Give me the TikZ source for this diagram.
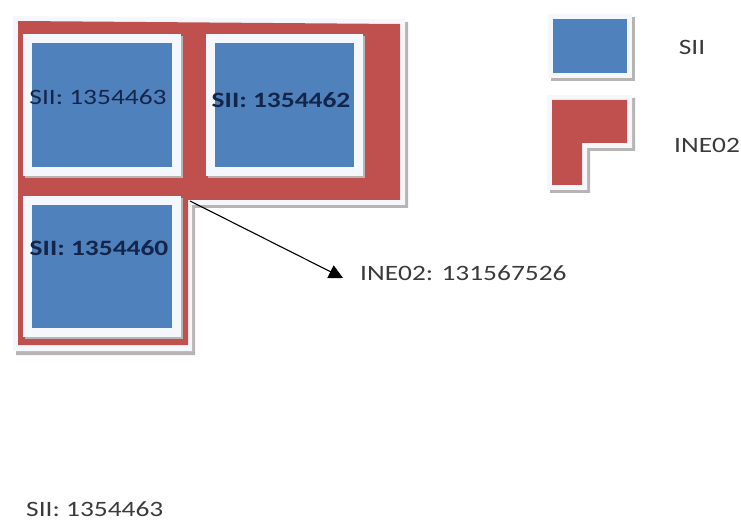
\documentclass[tikz,border=0pt]{standalone}
\usepackage{fontspec}
\setmainfont{Carlito}
\usetikzlibrary{arrows.meta}
\definecolor{inered}{HTML}{C0504D}
\definecolor{siiblue}{HTML}{4F81BD}
\definecolor{framew}{HTML}{F4F8FC}
\definecolor{shadowg}{HTML}{B8B4B4}
\definecolor{navytxt}{HTML}{14254A}
\definecolor{graytxt}{HTML}{3A3A3A}
\tikzset{
  bluesq/.style={fill=siiblue, draw=none, inner sep=0pt,
    preaction={draw=shadowg, line width=18bp, transform canvas={shift={(2bp,-2bp)}}},
    preaction={draw=framew, line width=18bp}},
  legsq/.style={fill=siiblue, draw=none, inner sep=0pt,
    preaction={draw=shadowg, line width=10bp, transform canvas={shift={(3bp,-3bp)}}},
    preaction={draw=framew, line width=10bp}},
  sqtext/.style={text=navytxt, font=\fontsize{22}{24}\selectfont, inner sep=0pt},
  plaintext/.style={text=graytxt, font=\fontsize{22}{24}\selectfont, inner sep=0pt},
  lshadow/.style={fill=shadowg},
  lframe/.style={fill=framew},
  lred/.style={fill=inered},
}
\newcommand{\wide}[1]{\scalebox{1.25}[1]{#1}}
\begin{document}
\begin{tikzpicture}[x=1bp,y=-1bp]
\useasboundingbox (0,0) rectangle (741,523);
% main L shape: shadow, frame, red
\fill[lshadow] (16,19) -- (408,22) -- (408,208) -- (195,208) -- (195,355) -- (16,355) -- cycle;
\fill[lframe] (13,16) -- (405,19) -- (405,205) -- (192,205) -- (192,351) -- (13,351) -- cycle;
\fill[lred] (18,21) -- (400,24) -- (400,200) -- (188,200) -- (188,345) -- (18,345) -- cycle;
\coordinate (corner) at (190,201);
% blue squares
\node[bluesq, minimum width=140bp, minimum height=124bp] (b1) at (102,105) {};
\node[bluesq, minimum width=139bp, minimum height=124bp] (b2) at (284.5,105) {};
\node[bluesq, minimum width=140bp, minimum height=123bp] (b3) at (102,266.5) {};
\node[sqtext] (t1) at (98,97) {\wide{SII: 1354463}};
\node[sqtext] (t2) at (281,100) {\wide{\bfseries SII: 1354462}};
\node[sqtext] (t3) at (99,248) {\wide{\bfseries SII: 1354460}};
% label and arrow
\node[plaintext, anchor=west] (lab) at (360,273) {\wide{INE02: 131567526}};
\coordinate (tip) at (343,278);
\draw[line width=1.1bp, -{Triangle[length=14bp,width=14bp]}] (corner) -- (tip);
% legend
\node[legsq, minimum width=74bp, minimum height=54bp] (lg1) at (590,46) {};
\node[plaintext] (lgt1) at (692,47) {\wide{SII}};
\fill[lshadow] (550,98) -- (635,98) -- (635,151) -- (590,151) -- (590,193) -- (550,193) -- cycle;
\fill[lframe] (547,95) -- (632,95) -- (632,148) -- (587,148) -- (587,190) -- (547,190) -- cycle;
\fill[lred] (552,100) -- (627,100) -- (627,143) -- (582,143) -- (582,185) -- (552,185) -- cycle;
\node[plaintext, anchor=west] (lgt2) at (674,145) {\wide{INE02}};
% bottom text
\node[plaintext, anchor=west] (bot) at (26,509) {\wide{SII: 1354463}};
\end{tikzpicture}
\end{document}
